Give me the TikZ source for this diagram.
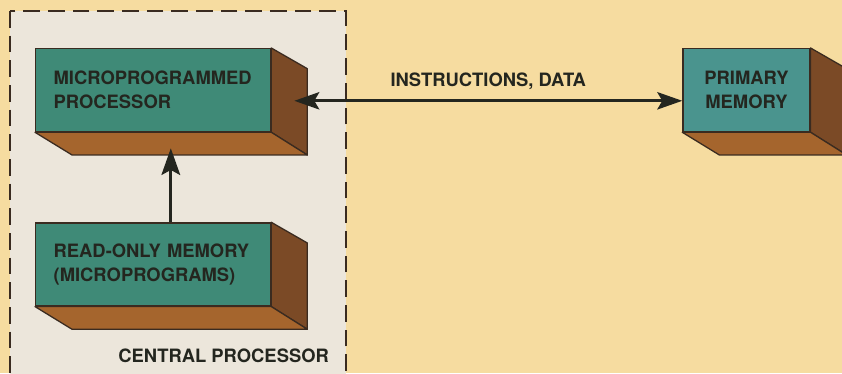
\documentclass[tikz,border=0pt]{standalone}
\usepackage{fontspec}
\setmainfont{TeX Gyre Heros}
\usetikzlibrary{positioning,calc,arrows.meta}
\definecolor{BgYellow}{HTML}{F6DCA0}
\definecolor{BoxGrey}{HTML}{ECE6DB}
\definecolor{FaceTeal}{HTML}{3F8A77}
\definecolor{FaceBlue}{HTML}{4A948E}
\definecolor{SideBrown}{HTML}{7B4A26}
\definecolor{BaseBrown}{HTML}{A5652D}
\definecolor{Edge}{HTML}{3A2B20}
\definecolor{Ink}{HTML}{24261F}

% right and bottom faces of a block
\newcommand{\blockdepth}[1]{%
  \filldraw[fill=SideBrown, draw=Edge, line width=1.1pt, line join=round]
    (#1.north east) -- ++(1.08,-0.62) -- ($(#1.south east)+(1.08,-0.68)$) -- (#1.south east) -- cycle;
  \filldraw[fill=BaseBrown, draw=Edge, line width=1.1pt, line join=round]
    (#1.south west) -- ++(1.11,-0.68) -- ($(#1.south east)+(1.08,-0.68)$) -- (#1.south east) -- cycle;
}

\begin{document}
\begin{tikzpicture}[every node/.style={font=\fontsize{15.7}{20.5}\selectfont\bfseries, text=Ink}]
  \clip (0,0) rectangle (25.26,11.19);
  \fill[BgYellow] (0,0) rectangle (25.26,11.19);
  \filldraw[fill=BoxGrey, draw=Edge, line width=1.2pt, dash pattern=on 0.5cm off 0.24cm] (0.3,10.86) rectangle (10.38,-0.6);

  \tikzset{
    face/.style={draw=Edge, line width=1.1pt, fill=FaceTeal, minimum height=2.49cm,
      inner xsep=0.54cm, inner ysep=0pt, text width=5.97cm, align=left},
    link/.style={line width=2.4pt, draw=Ink, {Stealth[length=0.75cm, width=0.52cm, inset=0.15cm]}-{Stealth[length=0.75cm, width=0.52cm, inset=0.15cm]}},
    uplink/.style={line width=2.4pt, draw=Ink, -{Stealth[length=0.8cm, width=0.56cm, inset=0.15cm]}}
  }

  \node[face, anchor=north west] (mp) at (1.05,9.75) {MICROPROGRAMMED\\PROCESSOR};
  \node[face, below=2.7cm of mp] (rom) {READ-ONLY MEMORY\\(MICROPROGRAMS)};
  \node[face, fill=FaceBlue, right=12.33cm of mp, text width=3.41cm, inner xsep=0.2cm, align=center] (pm) {PRIMARY\\MEMORY};

  \blockdepth{mp}
  \blockdepth{rom}
  \blockdepth{pm}

  \coordinate (mpside) at ($(mp.east)+(0.69,-0.32)$);
  \coordinate (mpbase) at ($(mp.south)+(0.53,-0.48)$);

  \draw[link] (mpside) -- (mpside -| pm.west);
  \node[above=0.22cm of $(mpside)!0.5!(mpside -| pm.west)$] (io) {INSTRUCTIONS, DATA};
  \draw[uplink] (mpbase |- rom.north) -- (mpbase);

  \node[anchor=base east] (cpu) at (9.99,0.33) {CENTRAL PROCESSOR};
\end{tikzpicture}
\end{document}
